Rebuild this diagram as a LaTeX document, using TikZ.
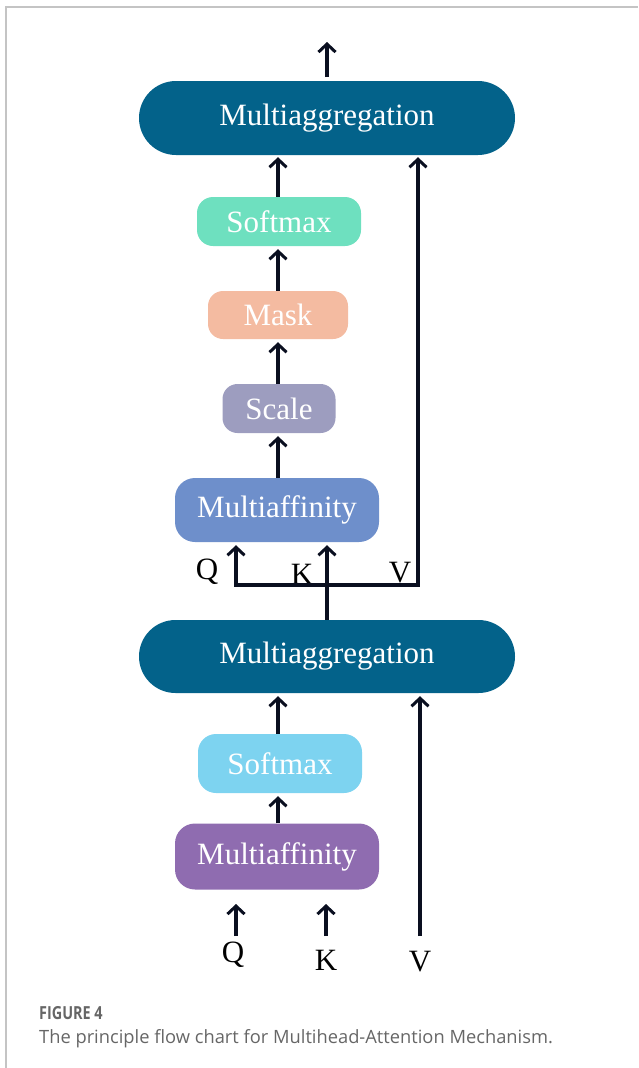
\documentclass[tikz,border=0pt]{standalone}
\usepackage{fontspec}
\usepackage{graphicx}
\setmainfont{Liberation Serif}
\newfontfamily\capfont{Open Sans}
\usetikzlibrary{arrows.meta}
\definecolor{aggc}{HTML}{03628A}
\definecolor{softa}{HTML}{6EE0BF}
\definecolor{maskc}{HTML}{F4BBA1}
\definecolor{scalec}{HTML}{9D9DBF}
\definecolor{affa}{HTML}{6E8FCB}
\definecolor{softb}{HTML}{7DD3F0}
\definecolor{affb}{HTML}{8F6CB0}
\definecolor{linec}{HTML}{0A0F20}
\definecolor{framec}{HTML}{C4C4C4}
\definecolor{capc}{HTML}{666666}
\begin{document}
\begin{tikzpicture}[x=1pt,y=-1pt,
  box/.style={inner sep=0pt,text=white,font=\fontsize{31}{31}\selectfont,align=center},
  arr/.style={draw=linec,line width=3.2pt,-{Straight Barb[length=8pt,width=17pt,line width=3pt]}},
  ln/.style={draw=linec,line width=3.2pt},
  lbl/.style={inner sep=0pt,text=black,font=\fontsize{31}{31}\selectfont},
  frame/.style={draw=framec,line width=1.5pt}]
\useasboundingbox (0,0) rectangle (638,1068);
\draw[frame] (6,1068) -- (6,7) -- (638,7);
% nodes
\node[box,fill=aggc,minimum width=376pt,minimum height=74pt,rounded corners=37pt] (agg1) at (327,118) {Multiaggregation};
\node[box,fill=softa,minimum width=164pt,minimum height=49pt,rounded corners=16pt] (soft1) at (279,221.5) {Softmax};
\node[box,fill=maskc,minimum width=140pt,minimum height=48pt,rounded corners=15pt] (mask) at (278,315) {Mask};
\node[box,fill=scalec,minimum width=113pt,minimum height=49pt,rounded corners=15pt] (scale) at (279,408.5) {Scale};
\node[box,fill=affa,minimum width=204pt,minimum height=64pt,rounded corners=20pt] (aff1) at (277,510) {Multiaffinity};
\node[box,fill=aggc,minimum width=376pt,minimum height=73pt,rounded corners=36.5pt] (agg2) at (327,656.5) {Multiaggregation};
\node[box,fill=softb,minimum width=164pt,minimum height=59pt,rounded corners=18pt] (soft2) at (280,763.5) {Softmax};
\node[box,fill=affb,minimum width=204pt,minimum height=66pt,rounded corners=20pt] (aff2) at (277,856.5) {Multiaffinity};
% labels
\node[lbl] (q1) at (207,572) {Q};
\node[lbl] (k1) at (302,574) {K};
\node[lbl] (v1) at (400,573) {V};
\node[lbl] (q2) at (233,955) {Q};
\node[lbl] (k2) at (326,960) {K};
\node[lbl] (v2) at (420,962) {V};
% coordinates
\coordinate (out) at (327,42);
\coordinate (qj) at (236,585);
\coordinate (vj) at (418,585);
\coordinate (qs) at (236,936);
\coordinate (ks) at (326,936);
\coordinate (vs) at (420,936);
% top section connectors
\draw[arr] (327,77) -- (out);
\draw[arr] (soft1.north -| 278,0) -- ([yshift=-2pt]agg1.south -| 278,0);
\draw[arr] (mask.north -| 278,0) -- ([yshift=-3pt]soft1.south -| 278,0);
\draw[arr] (scale.north -| 278,0) -- ([yshift=-3pt]mask.south -| 278,0);
\draw[arr] (aff1.north -| 278,0) -- ([yshift=-3pt]scale.south -| 278,0);
\draw[ln] ([xshift=-1.6pt]qj) -- ([xshift=1.6pt]vj);
\draw[arr] (qj) -- ([yshift=-3pt]qj |- aff1.south);
\draw[arr] (agg2.north) -- ([yshift=-3pt]agg2.north |- aff1.south);
\draw[arr] (vj) -- ([yshift=-2pt]vj |- agg1.south);
% bottom section connectors
\draw[arr] (soft2.north -| 278,0) -- ([yshift=-3pt]agg2.south -| 278,0);
\draw[arr] (aff2.north -| 278,0) -- ([yshift=-3pt]soft2.south -| 278,0);
\draw[arr] (vs) -- ([yshift=-3pt]vs |- agg2.south);
\draw[arr] (qs) -- (236,904);
\draw[arr] (ks) -- (326,904);
% caption
\node[anchor=base west,inner sep=0pt,text=capc,font=\capfont\bfseries\fontsize{18}{18}\selectfont] (cap1) at (39,1019) {\scalebox{0.8}[1]{FIGURE 4}};
\node[anchor=base west,inner sep=0pt,text=capc,font=\capfont\fontsize{18.3}{18}\selectfont] (cap2) at (39,1043) {The principle flow chart for Multihead-Attention Mechanism.};
\end{tikzpicture}
\end{document}
